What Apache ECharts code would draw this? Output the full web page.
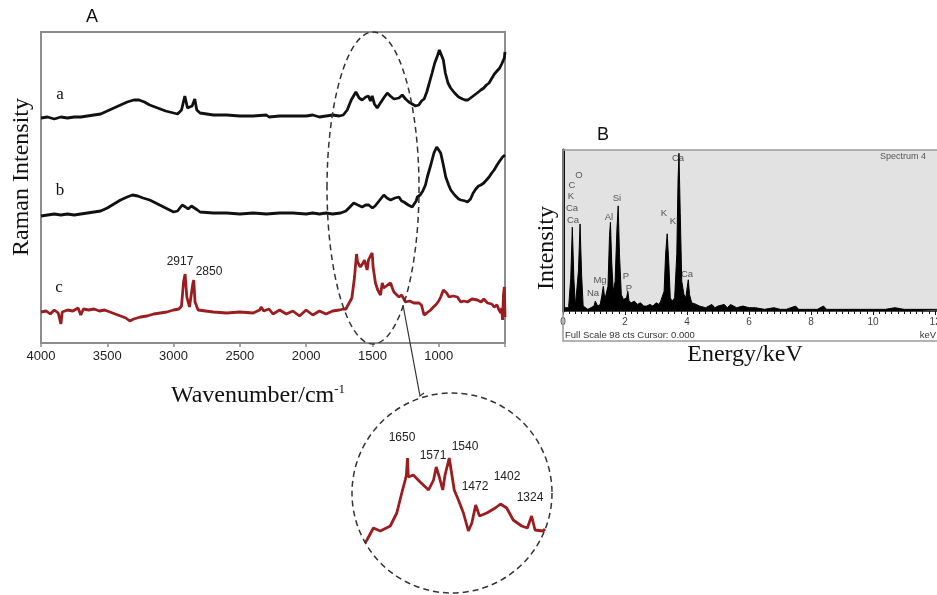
<!DOCTYPE html>
<html>
<head>
<meta charset="utf-8">
<script src="https://cdn.jsdelivr.net/npm/echarts@6/dist/echarts.min.js"></script>
<style>
  html, body { margin: 0; padding: 0; background: #fff; }
  #chart { width: 937px; height: 595px; }
</style>
</head>
<body>
<div id="chart"></div>
<script>
// Raman spectra, [wavenumber cm-1, relative intensity above each trace's baseline]
const ramanA = [
  [4000, 0], [3950, 1], [3900, -1], [3850, 1], [3800, 0], [3750, 1], [3700, 1], [3650, 2], [3600, 3],
  [3550, 4], [3500, 7], [3450, 10], [3400, 13], [3350, 16], [3300, 18], [3260, 18], [3220, 16],
  [3180, 13], [3120, 10], [3060, 7], [3000, 5], [2970, 4], [2940, 8], [2915, 22], [2895, 10],
  [2880, 9], [2860, 12], [2840, 19], [2825, 8], [2800, 5], [2750, 4], [2700, 3], [2600, 3],
  [2500, 2], [2400, 2], [2300, 3], [2280, 1], [2200, 2], [2100, 2], [2000, 2], [1950, 3],
  [1900, 1], [1850, 2], [1800, 3], [1750, 2], [1720, 3], [1690, 8], [1660, 18], [1625, 26],
  [1600, 20], [1578, 18], [1550, 21], [1530, 22], [1515, 17], [1502, 22], [1485, 14], [1464, 10],
  [1440, 15], [1410, 21], [1388, 25], [1365, 22], [1338, 19], [1300, 20], [1275, 23], [1250, 19],
  [1225, 16], [1200, 14], [1175, 12], [1150, 13], [1130, 17], [1110, 19], [1090, 26], [1073, 34],
  [1050, 45], [1030, 55], [1010, 62], [995, 68], [980, 66], [965, 58], [950, 45], [930, 35],
  [910, 30], [880, 25], [850, 21], [820, 19], [800, 18], [780, 18], [760, 20], [740, 22],
  [710, 25], [682, 28], [660, 30], [640, 33], [620, 35], [607, 38], [580, 44], [560, 47],
  [540, 50], [525, 54], [515, 57], [505, 60], [500, 66]
];
const ramanB = [
  [4000, -1], [3950, 0], [3900, 1], [3850, 0], [3800, 1], [3750, 0], [3700, 1], [3650, 2],
  [3600, 3], [3550, 4], [3500, 7], [3450, 11], [3400, 15], [3350, 18], [3310, 20], [3270, 19],
  [3230, 17], [3180, 15], [3120, 11], [3060, 7], [3000, 3], [2970, 4], [2935, 10], [2910, 8],
  [2890, 6], [2865, 9], [2850, 8], [2820, 5], [2800, 3], [2700, 2], [2600, 2], [2500, 1],
  [2400, 2], [2300, 1], [2200, 2], [2100, 2], [2000, 1], [1950, 2], [1900, 1], [1850, 2],
  [1800, 1], [1740, 2], [1700, 4], [1670, 8], [1641, 12], [1610, 10], [1578, 8], [1550, 10],
  [1528, 10], [1500, 7], [1480, 9], [1450, 14], [1414, 20], [1390, 17], [1363, 15], [1330, 17],
  [1300, 18], [1280, 14], [1262, 13], [1230, 10], [1200, 8], [1187, 8], [1170, 14], [1161, 18],
  [1140, 20], [1120, 24], [1100, 30], [1086, 38], [1060, 50], [1036, 62], [1015, 68], [1000, 66],
  [985, 62], [965, 50], [947, 38], [925, 30], [909, 25], [880, 20], [850, 16], [833, 15],
  [800, 14], [783, 13], [760, 16], [740, 22], [720, 26], [700, 29], [682, 30], [660, 32],
  [640, 35], [620, 38], [600, 42], [582, 45], [560, 50], [540, 54], [518, 58], [505, 56], [500, 60]
];
const ramanC = [
  [4000, 0], [3960, 1], [3930, -2], [3900, 2], [3870, -1], [3850, -12], [3840, 0], [3800, 2],
  [3760, 1], [3720, 4], [3700, -3], [3680, 3], [3640, 2], [3600, 3], [3560, 1], [3520, 2],
  [3480, 0], [3440, -2], [3400, -4], [3360, -6], [3330, -9], [3300, -7], [3250, -5], [3200, -4],
  [3150, -2], [3100, -1], [3050, 0], [3000, 2], [2960, 3], [2940, 6], [2925, 30], [2913, 38],
  [2900, 15], [2880, 5], [2865, 6], [2855, 28], [2848, 32], [2838, 10], [2815, 2], [2800, 1],
  [2700, 0], [2600, -1], [2500, 0], [2400, -1], [2350, 2], [2340, 5], [2320, 1], [2280, 3],
  [2250, -2], [2200, 2], [2150, -2], [2100, 1], [2050, -4], [2000, 2], [1950, -3], [1900, 1],
  [1850, -2], [1800, 1], [1750, 2], [1717, 3], [1700, 3], [1680, 8], [1655, 14], [1635, 35],
  [1620, 58], [1612, 50], [1600, 50], [1591, 45], [1575, 48], [1560, 52], [1553, 50], [1540, 42],
  [1530, 52], [1515, 56], [1502, 59], [1495, 45], [1477, 29], [1460, 22], [1439, 17], [1426, 29],
  [1415, 24], [1401, 22], [1385, 27], [1363, 29], [1350, 24], [1338, 20], [1300, 15], [1280, 17],
  [1267, 19], [1250, 10], [1220, 11], [1187, 9], [1149, 9], [1130, 7], [1111, -3], [1090, -1],
  [1061, 2], [1040, 5], [1023, 7], [1000, 11], [985, 15], [965, 22], [955, 24], [940, 19],
  [922, 15], [890, 16], [859, 15], [834, 10], [810, 11], [783, 10], [750, 13], [708, 12],
  [680, 10], [660, 13], [632, 9], [600, 8], [582, 5], [560, 7], [545, 2], [531, -1], [525, 4],
  [518, -8], [512, 16], [505, 25], [500, -5]
];
// baseline of each stacked trace
const traceOffsets = { a: 225, b: 128, c: 31 };
const tickWavenumbers = [4000, 3500, 3000, 2500, 2000, 1500, 1000];

// zoomed region of trace c
const insetC = [
  [1760, 0], [1755, 3], [1738, 15], [1720, 12], [1694, 17], [1677, 30], [1664, 50], [1655, 63],
  [1652, 68], [1649, 85], [1647, 66], [1634, 68], [1616, 61], [1594, 53], [1581, 63], [1574, 76],
  [1566, 66], [1557, 53], [1551, 68], [1540, 85], [1527, 53], [1516, 43], [1503, 30], [1490, 12],
  [1481, 20], [1471, 38], [1461, 27], [1442, 30], [1420, 35], [1406, 39], [1390, 35], [1373, 23],
  [1351, 17], [1336, 15], [1325, 27], [1316, 13], [1295, 12], [1290, 14]
];
const insetPeaks = ['1650', '1571', '1540', '1472', '1402', '1324'];
const ramanPeaks = ['2917', '2850'];

// EDS spectrum, [energy keV, counts]
const edsCounts = [
  [0.0, 0], [0.05, 2], [0.1, 1], [0.18, 2], [0.25, 20], [0.3, 51], [0.35, 20], [0.4, 3],
  [0.45, 4], [0.5, 25], [0.55, 53], [0.6, 22], [0.65, 3], [0.7, 2], [0.8, 1], [0.9, 2],
  [1.0, 3], [1.04, 6], [1.08, 5], [1.12, 3], [1.2, 4], [1.25, 9], [1.3, 15], [1.35, 7],
  [1.4, 6], [1.45, 15], [1.5, 46], [1.53, 54], [1.57, 30], [1.62, 12], [1.68, 18], [1.74, 50],
  [1.78, 64], [1.82, 35], [1.88, 10], [1.95, 7], [2.0, 6], [2.05, 8], [2.09, 12], [2.13, 6],
  [2.2, 5], [2.3, 6], [2.4, 4], [2.5, 5], [2.6, 3], [2.7, 3], [2.8, 4], [2.9, 3], [3.0, 5],
  [3.1, 4], [3.15, 6], [3.2, 5], [3.26, 12], [3.31, 35], [3.36, 47], [3.41, 30], [3.46, 8],
  [3.52, 6], [3.6, 8], [3.67, 35], [3.71, 80], [3.74, 96], [3.78, 60], [3.83, 18], [3.9, 10],
  [3.96, 8], [4.01, 15], [4.04, 19], [4.08, 10], [4.15, 5], [4.3, 4], [4.4, 3], [4.6, 2],
  [4.8, 4], [4.9, 2], [5.0, 3], [5.2, 4], [5.3, 2], [5.4, 4], [5.6, 2], [5.8, 3], [6.0, 2],
  [6.2, 2], [6.5, 1], [6.8, 2], [7.0, 1], [7.2, 1], [7.5, 3], [7.6, 1], [7.9, 1], [8.2, 1],
  [8.4, 3], [8.5, 1], [8.8, 1], [9.2, 1], [9.6, 1], [10.0, 1], [10.4, 1], [10.7, 2], [11.0, 1],
  [11.5, 1], [12.06, 1]
];
const edsElements = ['C', 'O', 'K', 'Ca', 'Ca', 'Al', 'Si', 'Mg', 'Na', 'P', 'P', 'K', 'K', 'Ca', 'Ca'];

const SERIF = "'Liberation Serif', 'Times New Roman', serif";
const SANS = "'Liberation Sans', Arial, sans-serif";
const RED = '#9b1d1f';

const chart = echarts.init(document.getElementById('chart'));

const shift = (arr, off) => arr.map(([x, y]) => [x, y + off]);

const txt = (text, x, y, font, size, color, align) => ({
  type: 'text', x: x, y: y, silent: true,
  style: { text: text, font: size + 'px ' + font, fill: color, textAlign: align || 'center', textVerticalAlign: 'middle' }
});

// element label positions in panel B
const edsLabelPos = [[572, 185], [579, 175], [571, 196], [572, 208], [573, 220], [609, 217], [617, 198],
  [600, 280], [593, 293], [626, 276], [629, 288], [664, 213], [673, 221], [678, 158], [687, 274]];
const insetLabelPos = [[402, 438], [433, 456], [465, 447], [475, 487], [507, 477], [530, 498]];

const vtitle = (text, x, y) => Object.assign(txt(text, x, y, SERIF, 24, '#111'), { rotation: Math.PI / 2 });

const option = {
  animation: false,
  backgroundColor: '#fff',
  grid: [
    { left: 41, top: 32, width: 464, height: 311, show: true, borderColor: '#8c8c8c', borderWidth: 2, outerBoundsMode: 'none' },
    { left: 365, top: 443, width: 180, height: 100, outerBoundsMode: 'none' },
    { left: 563, top: 150, width: 374, height: 161, show: true, backgroundColor: '#e2e2e2', borderWidth: 0, outerBoundsMode: 'none' }
  ],
  xAxis: [
    {
      gridIndex: 0, type: 'value', inverse: true, min: 500, max: 4000, interval: 500,
      axisLine: { show: false },
      axisTick: { show: true, length: 4, lineStyle: { color: '#8c8c8c', width: 1.5 } },
      splitLine: { show: false },
      axisLabel: {
        margin: 7, fontSize: 13, fontFamily: SANS, color: '#222',
        formatter: v => tickWavenumbers.indexOf(v) >= 0 ? String(v) : ''
      }
    },
    {
      gridIndex: 1, type: 'value', inverse: true, min: 1290, max: 1760, show: false
    },
    {
      gridIndex: 2, type: 'value', min: 0, max: 12.06, interval: 2,
      axisLine: { show: true, lineStyle: { color: '#111', width: 1.5 } },
      axisTick: { show: true, length: 4, lineStyle: { color: '#111' } },
      minorTick: { show: true, splitNumber: 10, length: 3, lineStyle: { color: '#111' } },
      splitLine: { show: false },
      axisLabel: {
        margin: 6, fontSize: 10, fontFamily: SANS, color: '#444',
        formatter: v => (v % 2 === 0 ? String(v) : '')
      }
    }
  ],
  yAxis: [
    { gridIndex: 0, type: 'value', min: 0, max: 311, show: false },
    { gridIndex: 1, type: 'value', min: 0, max: 100, show: false },
    {
      gridIndex: 2, type: 'value', min: 0, max: 98,
      axisLine: { show: true, lineStyle: { color: '#111', width: 3 } },
      axisTick: { show: false }, axisLabel: { show: false }, splitLine: { show: false }
    }
  ],
  series: [
    {
      name: 'a', type: 'line', xAxisIndex: 0, yAxisIndex: 0, symbol: 'none',
      data: shift(ramanA, traceOffsets.a), lineStyle: { color: '#111', width: 2.8 }, z: 3
    },
    {
      name: 'b', type: 'line', xAxisIndex: 0, yAxisIndex: 0, symbol: 'none',
      data: shift(ramanB, traceOffsets.b), lineStyle: { color: '#111', width: 2.8 }, z: 3
    },
    {
      name: 'c', type: 'line', xAxisIndex: 0, yAxisIndex: 0, symbol: 'none',
      data: shift(ramanC, traceOffsets.c), lineStyle: { color: RED, width: 2.8 }, z: 3
    },
    {
      name: 'c zoom', type: 'line', xAxisIndex: 1, yAxisIndex: 1, symbol: 'none',
      data: insetC, lineStyle: { color: RED, width: 2.8 }, z: 3
    },
    {
      name: 'EDS', type: 'line', xAxisIndex: 2, yAxisIndex: 2, symbol: 'none',
      data: edsCounts, lineStyle: { color: '#000', width: 1 },
      areaStyle: { color: '#000', opacity: 1 }, z: 3
    }
  ],
  graphic: [
    // panel A
    txt('A', 92, 17, SANS, 18, '#111'),
    txt('a', 60, 95, SERIF, 17, '#111'),
    txt('b', 60, 191, SERIF, 17, '#111'),
    txt('c', 59, 288, SERIF, 17, '#111'),
    txt(ramanPeaks[0], 180, 262, SANS, 12, '#222'),
    txt(ramanPeaks[1], 209, 272, SANS, 12, '#222'),
    vtitle('Raman Intensity', 22, 177),
    {
      type: 'text', x: 258, y: 396, silent: true,
      style: {
        text: 'Wavenumber/cm{s|-1}', textAlign: 'center', textVerticalAlign: 'middle',
        font: '24px ' + SERIF, fill: '#111', lineHeight: 26,
        rich: { s: { fontSize: 13, fontFamily: SERIF, verticalAlign: 'top', fill: '#111' } }
      }
    },
    {
      type: 'ellipse', silent: true, z: 10,
      shape: { cx: 373, cy: 188, rx: 46, ry: 156 },
      style: { fill: 'none', stroke: '#333', lineWidth: 1.5, lineDash: [6, 4] }
    },
    {
      type: 'polyline', silent: true, z: 10,
      shape: { points: [[403, 305], [420, 396], [424, 393]] },
      style: { fill: 'none', stroke: '#333', lineWidth: 1.2 }
    },
    {
      type: 'circle', silent: true, z: 10,
      shape: { cx: 452, cy: 493, r: 100 },
      style: { fill: 'none', stroke: '#333', lineWidth: 1.5, lineDash: [6, 4] }
    }
  ]
    .concat(insetPeaks.map((t, i) => txt(t, insetLabelPos[i][0], insetLabelPos[i][1], SANS, 12, '#222')))
    .concat([
      // panel B
      txt('B', 603, 135, SANS, 18, '#111'),
      {
        type: 'rect', silent: true, z: 10,
        shape: { x: 563, y: 150, width: 380, height: 191 },
        style: { fill: 'none', stroke: '#9a9a9a', lineWidth: 1.5 }
      },
      txt('Spectrum 4', 926, 157, SANS, 9, '#555', 'right'),
      txt('Full Scale 98 cts Cursor: 0.000', 565, 335, SANS, 9.5, '#333', 'left'),
      txt('keV', 936, 335, SANS, 9.5, '#333', 'right'),
      vtitle('Intensity', 547, 248),
      txt('Energy/keV', 745, 355, SERIF, 24, '#111')
    ])
    .concat(edsElements.map((t, i) => txt(t, edsLabelPos[i][0], edsLabelPos[i][1], SANS, 9.5, '#555')))
};

chart.setOption(option);
</script>
</body>
</html>
